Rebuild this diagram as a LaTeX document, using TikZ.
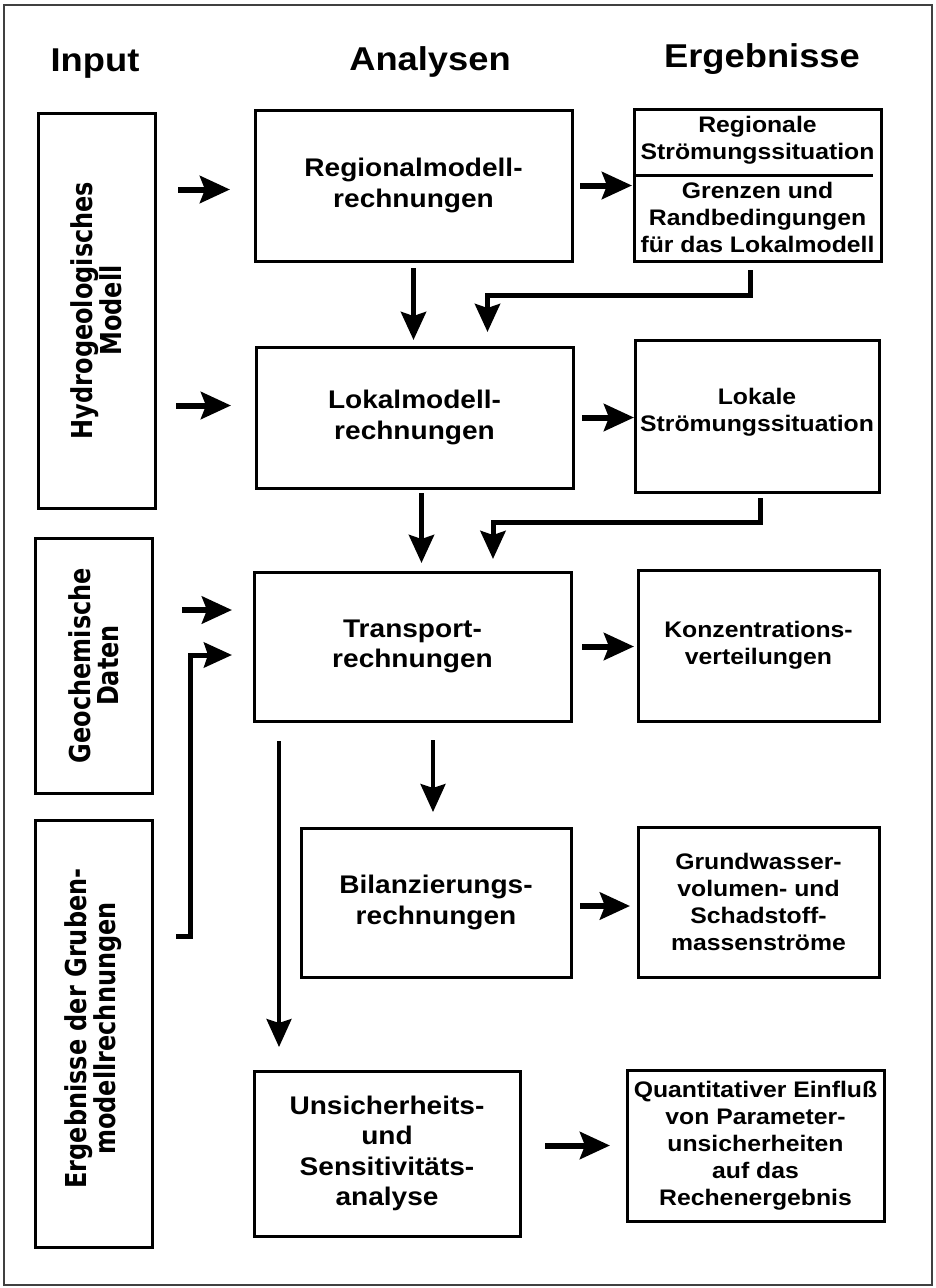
\documentclass[tikz,border=0pt]{standalone}
\usepackage{fontspec}
\setmainfont{Liberation Sans}[FakeStretch=1.1]
\newfontfamily\vfont{DejaVu Sans}
\usetikzlibrary{arrows.meta,calc}

\begin{document}
\begin{tikzpicture}[x=1pt,y=-1pt,
  box/.style={draw,line width=3pt,inner sep=0pt,outer sep=0pt,align=center},
  mid/.style={box,font=\bfseries\fontsize{25.5}{30.5}\selectfont},
  res/.style={box,font=\bfseries\fontsize{22.5}{27}\selectfont},
  restext/.style={align=center,inner sep=0pt,font=\bfseries\fontsize{22.5}{27}\selectfont},
  head/.style={anchor=base,font=\bfseries\fontsize{33}{38}\selectfont},
  vtext/.style={align=center,inner sep=0pt,font=\vfont\bfseries\fontsize{24}{23}\selectfont,xscale=1.2,rotate=90},
  arr/.style={line width=6pt,-{Stealth[length=30pt,width=27pt,inset=5pt]}},
  elb/.style={line width=5pt,-{Stealth[length=28pt,width=25pt,inset=4pt]}},
  tarr/.style={line width=3.5pt,-{Stealth[length=28pt,width=25pt,inset=4pt]}}]
  \useasboundingbox (0,0) rectangle (936,1288);
  \draw[line width=2pt,black!75] (4,5) rectangle (932,1285);

  % column heads
  \node[head] (hin) at (95,71) {Input};
  \node[head] (han) at (430,70) {Analysen};
  \node[head] (herg) at (762,67) {Ergebnisse};

  % input
  \node[box,minimum width=117,minimum height=395] (hydro) at (96.5,310.5) {};
  \node[vtext] (hydrotxt) at (hydro) {Hydrogeologisches\\Modell};
  \node[box,minimum width=117,minimum height=255] (geo) at (93.5,665.5) {};
  \node[vtext] (geotxt) at (geo) {Geochemische\\Daten};
  \node[box,minimum width=117,minimum height=427] (grube) at (93.5,1033.5) {};
  \node[vtext] (grubetxt) at ($(grube)+(0,-5)$) {Ergebnisse der Gruben-\\modellrechnungen};

  % analysen
  \node[mid,minimum width=317,minimum height=151] (regmod) at (413.5,185.5) {Regionalmodell-\\rechnungen};
  \node[mid,minimum width=317,minimum height=141] (lokmod) at (414.5,417.5) {Lokalmodell-\\rechnungen};
  \node[mid,minimum width=317,minimum height=149] (transp) at (412.5,646.5) {Transport-\\rechnungen};
  \node[mid,minimum width=270,minimum height=149] (bilanz) at (436,902.5) {Bilanzierungs-\\rechnungen};
  \node[mid,minimum width=266,minimum height=165] (unsich) at (387,1153.5) {Unsicherheits-\\und\\Sensitivit\"ats-\\analyse};

  % ergebnisse
  \node[box,minimum width=247,minimum height=152] (regerg) at (757.5,185) {};
  \draw[line width=3pt] (regerg.west |- 0,175) -- ($(regerg.east |- 0,175)+(-8,0)$);
  \node[restext] (regergtop) at (757.5,140) {Regionale\\Str\"omungssituation};
  \node[restext] (regergbot) at (757.5,217) {Grenzen und\\Randbedingungen\\f\"ur das Lokalmodell};
  \node[res,minimum width=244,minimum height=152] (lokerg) at (757,416) {};
  \node[restext] (lokergtxt) at (757,412) {Lokale\\Str\"omungssituation};
  \node[res,minimum width=241,minimum height=151] (konz) at (758.5,645.5) {Konzentrations-\\verteilungen};
  \node[res,minimum width=241,minimum height=150] (grund) at (758.5,902) {Grundwasser-\\volumen- und\\Schadstoff-\\massenstr\"ome};
  \node[res,minimum width=257,minimum height=151] (quant) at (755.5,1145.5) {Quantitativer Einflu\ss\\von Parameter-\\unsicherheiten\\auf das\\Rechenergebnis};

  % arrows
  \draw[arr,shorten <=23pt,shorten >=25pt] ([yshift=-4pt]hydro.east |- regmod.west) -- ([yshift=-4pt]regmod.west);
  \draw[arr,shorten <=8pt,shorten >=2pt] (regmod.east) -- (regmod.east -| regerg.west);
  \draw[arr,shorten <=21pt,shorten >=25pt] ([yshift=12pt]hydro.east |- lokmod.west) -- ([yshift=12pt]lokmod.west);
  \draw[arr,shorten <=9pt,shorten >=1pt] (lokmod.east) -- (lokmod.east -| lokerg.west);
  \draw[elb,shorten <=7pt,shorten >=7pt] (regmod.south) -- (regmod.south |- lokmod.north);
  \draw[elb,shorten <=9pt,shorten >=15pt] ([xshift=-7.5pt]regerg.south) -- ++(0,34) -| ([xshift=73pt]lokmod.north);
  \draw[elb,shorten <=5pt,shorten >=9pt] ([xshift=7pt]lokmod.south) -- ([xshift=7pt]lokmod.south |- transp.north);
  \draw[elb,shorten <=6pt,shorten >=13pt] ([xshift=3pt]lokerg.south) -- ++(0,30) -| ([xshift=80.5pt]transp.north);
  \draw[arr,shorten <=30pt,shorten >=22pt] ([yshift=36.5pt]geo.east |- transp.west) -- ([yshift=36.5pt]transp.west);
  \draw[elb,shorten <=24pt,shorten >=22pt] ([yshift=97.5pt]grube.east) -- ++(38,0) |- ([yshift=-8.5pt]transp.west);
  \draw[arr,shorten <=11pt,shorten >=4pt] (transp.east) -- (transp.east -| konz.west);
  \draw[tarr,shorten <=19pt,shorten >=16pt] ($(bilanz.north |- transp.south)+(-3,0)$) -- ($(bilanz.north)+(-3,0)$);
  \draw[tarr] ($(transp.south west)+(25,20)$) -- ($(transp.south west |- unsich.north)+(25,-24)$);
  \draw[arr,shorten <=9pt,shorten >=8pt] ([yshift=-3.5pt]bilanz.east) -- ([yshift=-3.5pt]bilanz.east -| grund.west);
  \draw[arr,shorten <=25pt,shorten >=17pt] (unsich.east |- quant.west) -- (quant.west);
\end{tikzpicture}
\end{document}
